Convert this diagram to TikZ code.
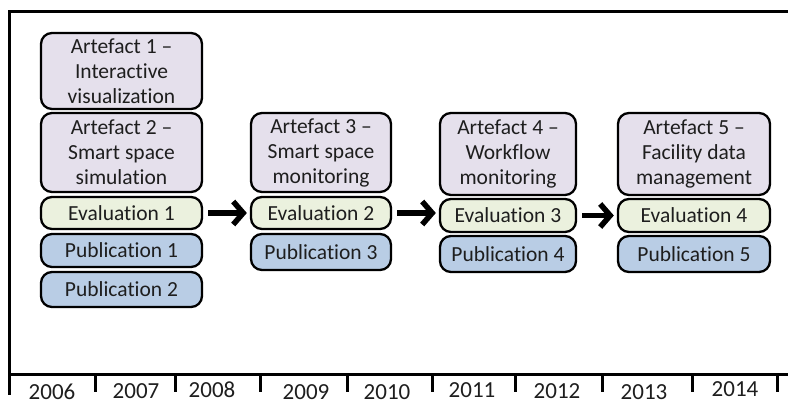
\documentclass[tikz,border=0pt]{standalone}
\usepackage{fontspec}
\setmainfont{Carlito}[Ligatures=NoCommon]
\usetikzlibrary{arrows.meta}
\definecolor{artfill}{HTML}{E5E0EC}
\definecolor{evalfill}{HTML}{EBF1DE}
\definecolor{pubfill}{HTML}{B9CDE5}
\definecolor{txt}{HTML}{1E1E1E}
\tikzset{
  box/.style={draw=black, line width=2.3pt, rounded corners=11pt, align=center,
              inner sep=0pt, text=txt, font=\fontsize{21.5}{25}\selectfont},
  art/.style={box, fill=artfill},
  evl/.style={box, fill=evalfill},
  pub/.style={box, fill=pubfill},
  flow/.style={line width=5.5pt, shorten <=5pt, shorten >=3pt,
               -{Straight Barb[length=10pt,width=23pt]}},
  axis/.style={line width=3pt},
  yearlbl/.style={font=\fontsize{23}{27}\selectfont, text=txt, inner sep=0pt},
}
\begin{document}
\begin{tikzpicture}[x=1pt,y=-1pt]
\useasboundingbox (0,0) rectangle (788,404);

% column 1 (2006-2008)
\node[art, minimum width=161pt, minimum height=76pt] (a1) at (121.5,71) {Artefact 1 --\\Interactive\\visualization};
\node[art, minimum width=161pt, minimum height=79pt] (a2) at (121.5,152.5) {Artefact 2 --\\Smart space\\simulation};
\node[evl, minimum width=161pt, minimum height=32pt] (e1) at (121.5,213) {Evaluation 1};
\node[pub, minimum width=161pt, minimum height=33pt] (p1) at (121.5,250.5) {Publication 1};
\node[pub, minimum width=161pt, minimum height=35pt] (p2) at (121.5,289.5) {Publication 2};

% column 2 (2009)
\node[art, minimum width=140pt, minimum height=79pt] (a3) at (321,152.5) {Artefact 3 --\\Smart space\\monitoring};
\node[evl, minimum width=140pt, minimum height=32pt] (e2) at (321,213) {Evaluation 2};
\node[pub, minimum width=140pt, minimum height=36pt] (p3) at (321,252) {Publication 3};

% column 3 (2011)
\node[art, minimum width=136pt, minimum height=82pt] (a4) at (508,154) {Artefact 4 --\\Workflow\\monitoring};
\node[evl, minimum width=136pt, minimum height=33pt] (e3) at (508,215.5) {Evaluation 3};
\node[pub, minimum width=136pt, minimum height=36pt] (p4) at (508,254) {Publication 4};

% column 4 (2013)
\node[art, minimum width=152pt, minimum height=82pt] (a5) at (694,154) {Artefact 5 --\\Facility data\\management};
\node[evl, minimum width=152pt, minimum height=33pt] (e4) at (694,215.5) {Evaluation 4};
\node[pub, minimum width=152pt, minimum height=36pt] (p5) at (694,254) {Publication 5};

% progression arrows
\draw[flow] (e1.east) -- (e1.east -| e2.west);
\draw[flow] (e2.east) -- (e2.east -| e3.west);
\draw[flow] (e3.east) -- (e3.east -| e4.west);

% frame and time axis
\coordinate (tl) at (9,12);
\coordinate (tr) at (790,12);
\coordinate (bl) at (9,374);
\coordinate (br) at (790,374);
\draw[axis] (tr) -- (tl) -- (9,395);
\draw[axis] (bl) -- (br);
\foreach \t in {95,175,260,347,432,515,602,692,777}
  \draw[axis] (\t,374) -- (\t,392);

% year labels
\node[yearlbl] (y2006) at (52,392) {2006};
\node[yearlbl] (y2007) at (136,391) {2007};
\node[yearlbl] (y2008) at (212,389.5) {2008};
\node[yearlbl] (y2009) at (306,392) {2009};
\node[yearlbl] (y2010) at (387,392) {2010};
\node[yearlbl] (y2011) at (472,390.5) {2011};
\node[yearlbl] (y2012) at (557,391) {2012};
\node[yearlbl] (y2013) at (644,392) {2013};
\node[yearlbl] (y2014) at (735,389.5) {2014};
\end{tikzpicture}
\end{document}
